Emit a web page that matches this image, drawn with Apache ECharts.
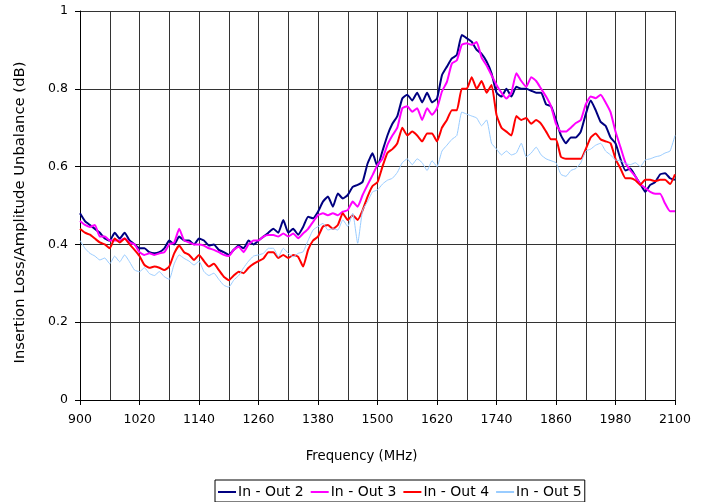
<!DOCTYPE html>
<html>
<head>
<meta charset="utf-8">
<script src="https://cdn.jsdelivr.net/npm/echarts@6/dist/echarts.min.js"></script>
<style>
html,body{margin:0;padding:0;background:#fff;}
#chart{width:704px;height:502px;}
</style>
</head>
<body>
<div id="chart"></div>
<script>
// Frequency grid (MHz), 10 MHz steps from 900 to 2100
const freqStart = 900, freqStep = 10;
const seriesNames = ["In - Out 2", "In - Out 3", "In - Out 4", "In - Out 5"];
const xTickLabels = [900, 1020, 1140, 1260, 1380, 1500, 1620, 1740, 1860, 1980, 2100];
const yTickLabels = [0, 0.2, 0.4, 0.6, 0.8, 1];

const out2 = [
0.48,0.46,0.45,0.44,0.43,0.415,0.41,0.43,0.415,0.43,0.41,0.40,0.39,0.39,0.38,0.377,0.38,0.39,0.41,0.40,0.42,
0.41,0.41,0.40,0.415,0.41,0.397,0.40,0.386,0.38,0.373,0.386,0.397,0.39,0.41,0.40,0.41,0.42,0.43,0.44,
0.43,0.463,0.43,0.44,0.425,0.445,0.471,0.467,0.484,0.51,0.523,0.497,0.531,0.518,0.527,0.548,0.553,0.561,0.608,0.634,
0.60,0.64,0.68,0.71,0.73,0.775,0.785,0.77,0.79,0.765,0.79,0.765,0.775,0.835,0.857,0.878,0.887,0.938,0.93,0.921,
0.90,0.89,0.87,0.84,0.79,0.78,0.80,0.78,0.805,0.80,0.80,0.795,0.79,0.79,0.76,0.755,0.72,0.68,0.66,0.675,
0.675,0.69,0.735,0.77,0.745,0.715,0.705,0.675,0.66,0.62,0.59,0.595,0.575,0.555,0.535,0.553,0.56,0.58,0.583,0.57,0.566
];
const out3 = [
0.46,0.45,0.445,0.45,0.42,0.42,0.41,0.41,0.41,0.415,0.405,0.40,0.38,0.373,0.377,0.373,0.377,0.38,0.40,0.405,0.44,
0.41,0.405,0.40,0.40,0.397,0.39,0.386,0.38,0.373,0.37,0.386,0.394,0.38,0.40,0.41,0.41,0.42,0.424,0.424,
0.42,0.428,0.42,0.428,0.416,0.428,0.44,0.458,0.475,0.48,0.475,0.48,0.475,0.484,0.488,0.51,0.497,0.527,0.553,0.578,
0.604,0.62,0.656,0.68,0.70,0.75,0.755,0.741,0.75,0.72,0.75,0.733,0.75,0.793,0.818,0.865,0.873,0.913,0.917,0.913,
0.92,0.88,0.86,0.835,0.81,0.79,0.775,0.79,0.84,0.82,0.805,0.83,0.82,0.80,0.78,0.755,0.71,0.69,0.69,0.70,
0.712,0.72,0.76,0.78,0.776,0.785,0.765,0.74,0.69,0.65,0.61,0.59,0.575,0.555,0.545,0.535,0.53,0.53,0.505,0.485,0.485
];
const out4 = [
0.44,0.43,0.425,0.415,0.405,0.40,0.39,0.415,0.405,0.415,0.40,0.386,0.37,0.347,0.34,0.343,0.34,0.334,0.343,0.377,0.397,
0.38,0.373,0.36,0.373,0.357,0.343,0.35,0.334,0.317,0.308,0.32,0.33,0.326,0.34,0.35,0.357,0.364,0.38,0.38,
0.365,0.373,0.365,0.373,0.368,0.343,0.386,0.41,0.42,0.446,0.45,0.44,0.45,0.48,0.463,0.475,0.463,0.488,0.523,0.55,
0.56,0.60,0.635,0.645,0.66,0.70,0.68,0.69,0.68,0.665,0.685,0.685,0.665,0.70,0.72,0.745,0.745,0.80,0.80,0.83,
0.80,0.82,0.79,0.81,0.733,0.70,0.69,0.68,0.73,0.72,0.725,0.71,0.72,0.71,0.69,0.67,0.67,0.625,0.62,0.62,
0.62,0.62,0.645,0.675,0.685,0.67,0.665,0.66,0.62,0.595,0.57,0.57,0.565,0.553,0.566,0.566,0.563,0.566,0.566,0.555,0.58
];
const out5 = [
0.41,0.39,0.377,0.37,0.36,0.365,0.35,0.37,0.355,0.373,0.355,0.334,0.33,0.34,0.325,0.32,0.33,0.317,0.31,0.35,0.373,
0.364,0.357,0.347,0.357,0.33,0.32,0.326,0.31,0.295,0.29,0.308,0.32,0.34,0.357,0.37,0.373,0.377,0.39,0.39,
0.368,0.39,0.377,0.368,0.377,0.381,0.41,0.437,0.446,0.454,0.437,0.44,0.437,0.463,0.446,0.48,0.403,0.488,0.51,0.535,
0.54,0.555,0.565,0.57,0.585,0.61,0.62,0.605,0.62,0.61,0.59,0.615,0.60,0.64,0.655,0.67,0.68,0.74,0.735,0.73,
0.725,0.705,0.72,0.66,0.645,0.63,0.64,0.63,0.635,0.66,0.625,0.635,0.65,0.63,0.62,0.615,0.61,0.58,0.575,0.59,
0.595,0.61,0.64,0.645,0.655,0.66,0.64,0.63,0.617,0.615,0.608,0.605,0.61,0.60,0.617,0.62,0.625,0.628,0.635,0.64,0.68
];

const colors = ["#000080", "#FF00FF", "#FF0000", "#99CCFF"];
const widths = [2, 2, 2, 1];
const allData = [out2, out3, out4, out5];

function pairs(arr) {
  return arr.map((v, i) => [freqStart + i * freqStep, v]);
}

const font = "DejaVu Sans";
const chart = echarts.init(document.getElementById('chart'), null, {renderer: 'canvas'});
chart.setOption({
  animation: false,
  backgroundColor: '#ffffff',
  grid: {left: 80, right: 29, top: 11, bottom: 102, containLabel: false},
  xAxis: {
    type: 'value', min: 900, max: 2100, interval: 120,
    name: 'Frequency (MHz)', nameLocation: 'middle', nameGap: 50,
    nameTextStyle: {fontFamily: font, fontSize: 13.3, color: '#000', padding: [0, 32, 0, 0]},
    axisLine: {show: true, onZero: false, lineStyle: {color: '#000', width: 1}},
    axisTick: {show: true, length: 5, inside: false, lineStyle: {color: '#000'}},
    axisLabel: {fontFamily: font, fontSize: 12.5, color: '#000', margin: 13,
      formatter: v => xTickLabels.includes(v) ? String(v) : ''},
    splitLine: {show: true, lineStyle: {color: '#333', width: 1}},
    minorTick: {show: false, splitNumber: 2},
    minorSplitLine: {show: true, lineStyle: {color: '#333', width: 1}}
  },
  yAxis: {
    type: 'value', min: 0, max: 1, interval: 0.2,
    name: 'Insertion Loss/Amplitude Unbalance (dB)', nameLocation: 'middle', nameGap: 52,
    nameTextStyle: {fontFamily: font, fontSize: 14.8, color: '#000', padding: [0, 14, 0, 0]},
    axisLine: {show: true, lineStyle: {color: '#000', width: 1}},
    axisTick: {show: true, length: 5, lineStyle: {color: '#000'}},
    axisLabel: {fontFamily: font, fontSize: 12.5, color: '#000', margin: 12,
      formatter: v => { const r = Math.round(v * 10) / 10; return yTickLabels.includes(r) ? String(r) : ''; }},
    splitLine: {show: true, lineStyle: {color: '#333', width: 1}}
  },
  legend: {
    top: 480, left: 215,
    data: seriesNames,
    icon: 'rect', itemWidth: 18, itemHeight: 2, itemGap: 7,
    borderColor: '#000', borderWidth: 1, borderRadius: 0,
    padding: [5, 3, 3, 3],
    textStyle: {fontFamily: font, fontSize: 14, color: '#000', padding: [0, 0, 0, -3]}
  },
  series: allData.map((d, i) => ({
    name: seriesNames[i], type: 'line', data: pairs(d),
    showSymbol: false, symbol: 'none', smooth: 0.15,
    itemStyle: {color: colors[i]},
    lineStyle: {color: colors[i], width: widths[i]},
    z: 2 + i
  }))
});
</script>
</body>
</html>
